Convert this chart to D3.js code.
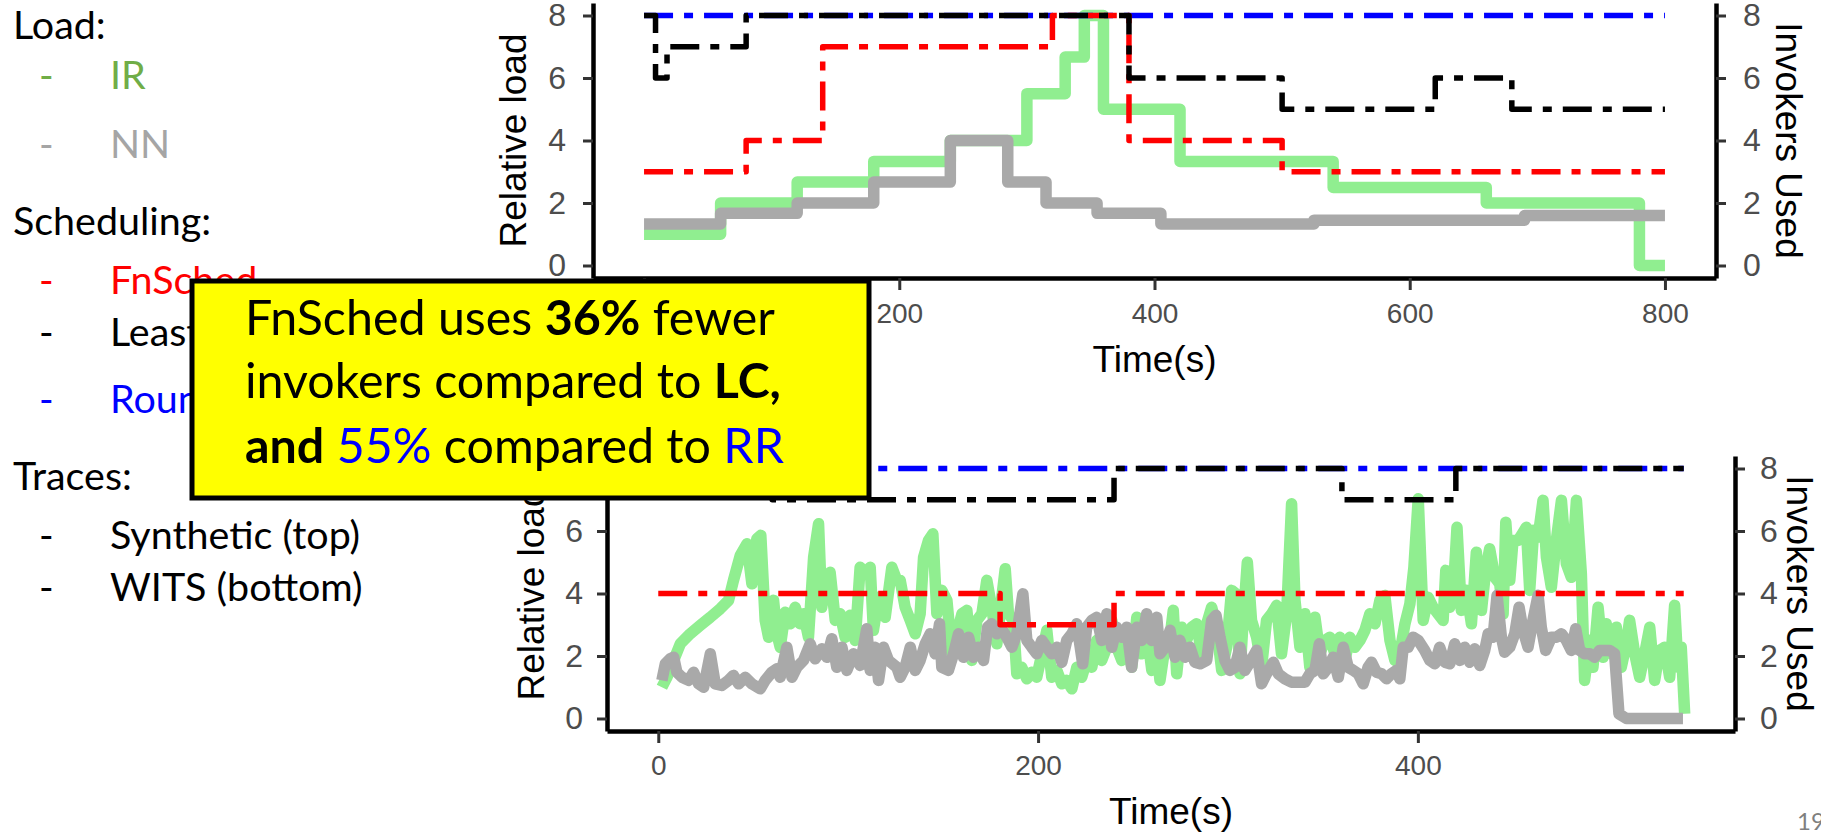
<!DOCTYPE html>
<html>
<head>
<meta charset="utf-8">
<script src="https://cdn.jsdelivr.net/npm/d3@7"></script>
<style>
  body { margin: 0; background: #fff; }
  svg { display: block; }
</style>
</head>
<body>
<svg id="slide" width="1821" height="833"></svg>
<script>
// ---- data ----
// synthetic trace (top), step change points [time (s), value]
var synIR = [[0,1],[60,2],[120,2.67],[180,3.33],[240,4],[300,5.5],[330,6.67],[345,8],[360,5],[420,3.33],[540,2.5],[660,2],[780,0],[800,0]];
var synNN = [[0,1.33],[60,1.67],[120,2],[180,2.67],[240,4],[285,2.67],[315,2],[355,1.67],[405,1.33],[525,1.45],[690,1.6],[800,1.6]];
var synFn = [[0,3],[80,4],[140,7],[320,8],[380,4],[500,3],[800,3]];
var synLC = [[0,8],[9,6],[18,7],[80,8],[380,6],[500,5],[620,6],[680,5],[800,5]];
var synRR = [[0,8],[800,8]];

// WITS trace (bottom)
var witsIR = [[1.9,1.0],[4.6,1.32],[8.1,1.86],[11.6,2.39],[16.8,2.71],[22.1,2.98],[27.4,3.24],[32.6,3.51],[37,3.78],[39.6,4.42],
  [43.2,5.22],[46.7,5.59],[49.3,4.31],[51.9,5.75],[54,5.86],[56.3,3.14],[58.1,2.6],[60.7,3.78],[62.5,2.71],[64.2,2.28],
  [66.8,3.4],[69.5,3.03],[72.1,3.56],[74.7,3.03],[76.5,3.35],[79.1,2.6],[81.8,5.16],[84.4,6.23],[86.1,3.56],[87.9,4.42],
  [90.5,4.68],[93.2,3.14],[95.8,3.35],[98.4,2.6],[101,3.3],[103.7,2.5],[106.3,4.84],[108.9,4.68],[111.6,4.84],[113.3,2.82],
  [116,3.88],[119.5,3.24],[123,4.84],[125.6,4.42],[127.4,4.42],[130,3.56],[132.7,3.14],[135.3,2.71],[137.9,3.35],[139.7,5.16],
  [142.3,5.7],[144.6,5.91],[146.7,3.35],[149.3,4.1],[152,3.78],[154.6,2.07],[157.2,2.71],[159.9,3.35],[162.5,3.46],[165.1,1.86],
  [167.8,3.14],[170.4,3.35],[173,4.42],[175.6,3.56],[178.3,2.39],[180.9,3.88],[182.7,4.79],[184.4,3.35],[187,3.14],[188.8,1.43],
  [191.4,1.64],[194.1,1.27],[196.7,1.48],[199.3,1.32],[202,2.07],[204.6,2.82],[207.2,1.32],[209.9,1.54],[212.5,1.11],[215.1,1.22],
  [217.8,0.95],[220.4,1.64],[223,1.32],[225.6,1.86],[228.3,1.64],[230.9,2.5],[233.5,1.86],[236.2,2.28],[238.8,3.14],[241.4,2.28],
  [244.1,1.86],[246.7,2.5],[249.3,1.64],[252,3.24],[254.6,2.07],[257.2,2.82],[259.9,1.54],[262.5,2.28],[264.2,1.22],[266.8,2.28],
  [269.5,2.6],[271.2,3.46],[273,1.43],[275.6,2.92],[278.2,2.5],[280.9,2.92],[283.5,3.03],[286.1,2.07],[288.8,3.03],[291.4,3.56],
  [294,2.92],[296.7,1.54],[299.3,2.28],[301.9,4.1],[304.2,3.99],[306.3,1.43],[308,3.14],[310.2,5.0],[312.4,3.14],[315.1,2.6],
  [317.7,1.64],[320.3,3.14],[323,3.35],[325.6,3.62],[328.2,2.07],[330.9,3.35],[333.5,6.87],[335.3,3.78],[337.9,2.28],[340.5,3.35],
  [343.1,1.64],[345.8,3.24],[348.4,2.07],[351,2.5],[353.7,2.6],[356.3,2.07],[358.9,2.6],[361.6,1.86],[364.2,2.6],[366.8,2.28],
  [369.5,2.5],[372.1,2.82],[374.7,3.35],[377.4,3.03],[380,3.78],[382.6,3.94],[385.3,2.5],[387.9,1.86],[390.5,2.07],[393.2,3.03],
  [395.8,3.67],[397.9,4.84],[400.2,7.03],[402.8,3.14],[405.4,3.88],[408,3.56],[410.6,3.35],[413.3,3.14],[414.7,4.74],[416.8,3.56],
  [418.5,3.88],[420.6,6.12],[422.9,3.46],[425.6,4.1],[428.2,3.03],[430.8,5.32],[433.5,3.46],[435.7,4.74],[437.8,5.43],[440.5,4.52],
  [443.1,4.31],[444.9,3.35],[446.3,6.28],[448.4,4.42],[450.1,5.7],[452.8,5.7],[455,5.91],[457.1,6.12],[458.9,4.1],[461,6.02],
  [463.3,5.8],[465.9,6.98],[467.7,5.16],[470.3,4.2],[472.9,5.7],[475.6,6.98],[478.2,4.95],[480.8,4.52],[483.5,6.98],[486.1,4.63],
  [487.8,1.22],[490.5,2.5],[492.2,1.64],[494.9,3.56],[497.5,1.96],[499.2,3.03],[501.9,2.07],[504.5,2.92],[507.1,1.64],[509.8,2.39],
  [511.5,3.14],[514.2,2.07],[516.8,1.32],[519.4,2.07],[522.1,2.92],[524.7,1.22],[527.3,2.18],[530,2.28],[532.6,1.32],[535.2,3.62],
  [537,1.64],[538.7,2.28],[540.5,0.15]];
var witsNN = [[1.9,1.22],[3.7,1.75],[6.3,1.91],[8.1,1.96],[9.8,1.48],[12.5,1.32],[16,1.22],[18.6,1.48],[21.2,1.11],[23.9,1.0],
  [27.4,2.07],[30,1.11],[33.5,1.06],[37,1.22],[39.6,1.38],[42.3,1.11],[45.8,1.32],[49.3,1.11],[53.7,0.95],[56.3,1.22],
  [59.8,1.48],[62.5,1.59],[64.2,1.32],[67.7,2.28],[70.4,1.32],[73,1.64],[76.5,1.86],[80,2.39],[82.6,1.91],[86.1,2.23],
  [88.8,1.96],[91.4,2.55],[94,1.64],[96.7,2.28],[99.3,1.54],[102.8,2.07],[106.3,1.7],[109.8,2.87],[111.6,1.54],[114.2,2.28],
  [116,1.22],[118.6,2.28],[121.2,1.86],[125.6,1.64],[127.4,1.32],[130,1.64],[132.7,2.28],[135.3,1.54],[137.9,1.86],[140.6,2.39],
  [143.2,2.71],[145.8,2.07],[148.1,3.03],[149.3,1.64],[152.8,1.54],[155.5,2.07],[158.1,2.71],[160.7,1.96],[163.4,2.6],[166,1.96],
  [168.6,2.28],[171.3,1.86],[173.4,2.92],[175.6,3.03],[178.3,2.71],[180.9,2.87],[183.5,2.6],[186.2,2.28],[188.8,2.71],[192,3.99],
  [194.1,2.5],[196.7,2.28],[199.3,2.07],[202,2.5],[204.6,2.28],[207.2,2.07],[209.9,2.28],[212.5,1.8],[215.1,2.5],[217.8,2.71],
  [220.4,3.03],[223.5,1.75],[225.6,2.92],[228.3,3.14],[230.9,3.24],[233.5,2.5],[236.2,3.35],[238.8,2.28],[241.4,2.92],[244.1,2.6],
  [246.7,2.92],[249.3,1.64],[252,2.92],[254.6,2.5],[257.2,3.35],[259.9,2.5],[262.5,3.24],[264.2,2.07],[266.8,2.28],[269.5,2.82],
  [272.1,1.96],[274.7,2.5],[277.4,1.96],[280,2.28],[282.6,1.8],[285.3,1.75],[288.8,1.86],[291.4,3.14],[293.7,3.3],[295.8,2.6],
  [298.4,1.86],[301,1.54],[303.7,1.64],[306.3,2.28],[308.9,1.54],[311.6,1.8],[315.1,2.18],[317.7,1.11],[320.3,1.43],[323.9,1.8],
  [326.5,1.43],[330,1.27],[333.5,1.16],[337,1.16],[340.5,1.16],[343.1,1.43],[345.8,1.54],[348.1,2.39],[350.2,1.43],[352.8,1.64],
  [355.4,1.96],[358.1,1.32],[360.7,2.28],[363.3,1.64],[366,1.54],[368.6,1.43],[371.2,1.11],[373.8,1.64],[375.6,1.8],[378.2,1.48],
  [380.9,1.43],[383.5,1.27],[386.1,1.43],[388.8,1.54],[390.5,1.27],[392.3,2.28],[394.9,2.28],[397.5,2.6],[400.2,2.5],[403.6,2.18],
  [406.3,1.86],[408.9,1.75],[411.5,2.28],[414.2,1.8],[416.8,1.75],[419.4,2.39],[422.1,1.86],[424.7,2.28],[427.3,1.8],[430,2.23],
  [432.6,1.7],[435.2,2.18],[437,2.71],[439.6,2.6],[441.7,3.94],[444,2.6],[445.7,2.12],[448.4,2.28],[451,2.71],[453.3,3.56],
  [455.4,2.82],[458,2.28],[460.6,3.14],[463.3,3.94],[465,2.92],[467.3,2.18],[470.3,2.6],[472.9,2.6],[475.6,2.71],[478.2,2.5],
  [480.8,2.18],[483.1,2.87],[485.2,2.18],[487.8,2.07],[490.5,2.07],[493.1,1.96],[495.7,2.18],[498.4,2.18],[501,2.18],[503.6,2.07],
  [505.9,0.15],[509.8,0],[523.8,0],[539.6,0]];
var witsFn = [[0,4],[180,3],[240,4],[540,4]];
var witsLC = [[0,8],[60,7],[240,8],[360,7],[420,8],[540,8]];
var witsRR = [[0,8],[540,8]];

var topTicksX = [0, 200, 400, 600, 800];
var bottomTicksX = [0, 200, 400];
var ticksY = [0, 2, 4, 6, 8];

var colors = { ir: "#90ee90", nn: "#a9a9a9", fn: "#ff0000", lc: "#000000", rr: "#0000ff" };

var chartFont = '"Liberation Sans", Arial, Helvetica, sans-serif';
var slideFont = 'Lato, "Open Sans", sans-serif';

var svg = d3.select("#slide");

function styleAxis(a, size) {
  a.attr("font-family", chartFont).attr("font-size", size);
  a.select(".domain").attr("stroke", "#000").attr("stroke-width", 4.5);
  a.selectAll(".tick line").attr("stroke", "#333").attr("stroke-width", 3);
  a.selectAll(".tick text").attr("fill", "#4d4d4d");
}

function drawPanel(o) {
  var g = svg.append("g");
  var x = d3.scaleLinear().domain(o.xDomain).range([o.left, o.right]);
  var y = d3.scaleLinear().domain([-0.4, 8.4]).range([o.bottom, o.top]);
  var step = d3.line().x(function(d) { return x(d[0]); }).y(function(d) { return y(d[1]); }).curve(d3.curveStepAfter);
  var load = d3.line().x(function(d) { return x(d[0]); }).y(function(d) { return y(d[1]); }).curve(o.loadCurve);

  var xa = g.append("g").attr("transform", "translate(0," + o.bottom + ")")
    .call(d3.axisBottom(x).tickValues(o.xTicks).tickSize(12).tickSizeOuter(0).tickPadding(o.xPad));
  styleAxis(xa, 28);
  var ya = g.append("g").attr("transform", "translate(" + o.left + ",0)")
    .call(d3.axisLeft(y).tickValues(ticksY).tickSize(10).tickSizeOuter(0).tickPadding(o.yPad));
  styleAxis(ya, 32);
  var ra = g.append("g").attr("transform", "translate(" + o.right + ",0)")
    .call(d3.axisRight(y).tickValues(ticksY).tickSize(10).tickSizeOuter(0).tickPadding(o.rPad));
  styleAxis(ra, 32);

  var midY = (o.top + o.bottom) / 2;
  g.append("text")
    .attr("transform", "translate(" + o.ylabX + "," + midY + ") rotate(-90)")
    .attr("text-anchor", "middle").attr("dy", "0.36em")
    .attr("font-family", chartFont).attr("font-size", 37)
    .text("Relative load");
  g.append("text")
    .attr("transform", "translate(" + o.rlabX + "," + midY + ") rotate(90)")
    .attr("text-anchor", "middle").attr("dy", "0.36em")
    .attr("font-family", chartFont).attr("font-size", 37)
    .text("Invokers Used");
  g.append("text")
    .attr("x", (o.left + o.right) / 2).attr("y", o.xlabY)
    .attr("text-anchor", "middle")
    .attr("font-family", chartFont).attr("font-size", 37)
    .text("Time(s)");

  function series(data, line, color, width, dash) {
    g.append("path").datum(data)
      .attr("d", line)
      .attr("fill", "none")
      .attr("stroke", color)
      .attr("stroke-width", width)
      .attr("stroke-linejoin", "round")
      .attr("stroke-dasharray", dash || null);
  }
  var dd = "29,11,9,11";
  series(o.ir, load, colors.ir, o.thick);
  series(o.nn, load, colors.nn, o.thick);
  series(o.rr, step, colors.rr, 5.5, dd);
  series(o.fn, step, colors.fn, 5.5, dd);
  series(o.lc, step, colors.lc, 5.5, dd);
}

drawPanel({
  left: 593, right: 1716, top: 3, bottom: 278,
  xDomain: [-40, 840], xTicks: topTicksX,
  xPad: 13, yPad: 17, rPad: 17,
  ylabX: 513, rlabX: 1789, xlabY: 372,
  thick: 11.5, loadCurve: d3.curveStepAfter,
  ir: synIR, nn: synNN, fn: synFn, lc: synLC, rr: synRR
});

drawPanel({
  left: 607, right: 1735, top: 456, bottom: 731,
  xDomain: [-27, 567], xTicks: bottomTicksX,
  xPad: 12, yPad: 14, rPad: 15,
  ylabX: 531, rlabX: 1800, xlabY: 824,
  thick: 11.5, loadCurve: d3.curveLinear,
  ir: witsIR, nn: witsNN, fn: witsFn, lc: witsLC, rr: witsRR
});

// ---- slide text ----
function measure(parts, size) {
  var t = svg.append("text").attr("font-family", slideFont).attr("font-size", size);
  parts.forEach(function(p) {
    t.append("tspan").attr("font-weight", p[1] === "b" ? 700 : 400).text(p[0]);
  });
  var w = t.node().getComputedTextLength();
  t.remove();
  return w;
}

var notes = [
  { y: 39, head: "Load:", w: 93 },
  { y: 89, item: "IR", color: "#70ad47" },
  { y: 158, item: "NN", color: "#a5a5a5" },
  { y: 235, head: "Scheduling:", w: 196 },
  { y: 294, item: "FnSched", color: "#ff0000" },
  { y: 346, item: "Least Connections", color: "#000000" },
  { y: 413, item: "Round Robin", color: "#0000ff" },
  { y: 490, head: "Traces:", w: 122 },
  { y: 549, item: "Synthetic (top)", color: "#000000", w: 252 },
  { y: 601, item: "WITS (bottom)", color: "#000000", w: 250 }
];
// one font size for the whole list, fitted over the lines whose width was read
var wantW = 0, gotW = 0;
notes.forEach(function(n) {
  if (n.w) { wantW += n.w; gotW += measure([[n.head || n.item, "n"]], 100); }
});
var noteSize = 100 * wantW / gotW;

var ng = svg.append("g").attr("font-family", slideFont).attr("font-size", noteSize);
notes.forEach(function(n) {
  if (n.head) {
    ng.append("text").attr("x", 13).attr("y", n.y).text(n.head);
  } else {
    ng.append("text").attr("x", 39).attr("y", n.y).attr("fill", n.color).text("-");
    ng.append("text").attr("x", 110).attr("y", n.y).attr("fill", n.color).text(n.item);
  }
});

// callout box
var boxLines = [
  [["FnSched uses ", "n"], ["36%", "b"], [" fewer", "n"]],
  [["invokers compared to ", "n"], ["LC,", "b"]],
  [["and", "b"], [" 55%", "blue"], [" compared to ", "n"], ["RR", "blue"]]
];
var boxSize = 100 * 530 / measure(boxLines[0], 100);
var bg = svg.append("g");
bg.append("rect")
  .attr("x", 192).attr("y", 281).attr("width", 677).attr("height", 217)
  .attr("fill", "#ffff00").attr("stroke", "#000").attr("stroke-width", 5);
var baseY = [335, 398, 463];
boxLines.forEach(function(line, i) {
  var t = bg.append("text").attr("x", 245).attr("y", baseY[i])
    .attr("font-family", slideFont).attr("font-size", boxSize);
  line.forEach(function(p) {
    t.append("tspan")
      .attr("font-weight", p[1] === "b" ? 700 : 400)
      .attr("fill", p[1] === "blue" ? "#0000ff" : "#000")
      .style("white-space", "pre")
      .text(p[0]);
  });
});

svg.append("text").attr("x", 1797).attr("y", 830)
  .attr("font-family", slideFont).attr("font-size", 24).attr("fill", "#7f7f7f")
  .text("19");
</script>
</body>
</html>
